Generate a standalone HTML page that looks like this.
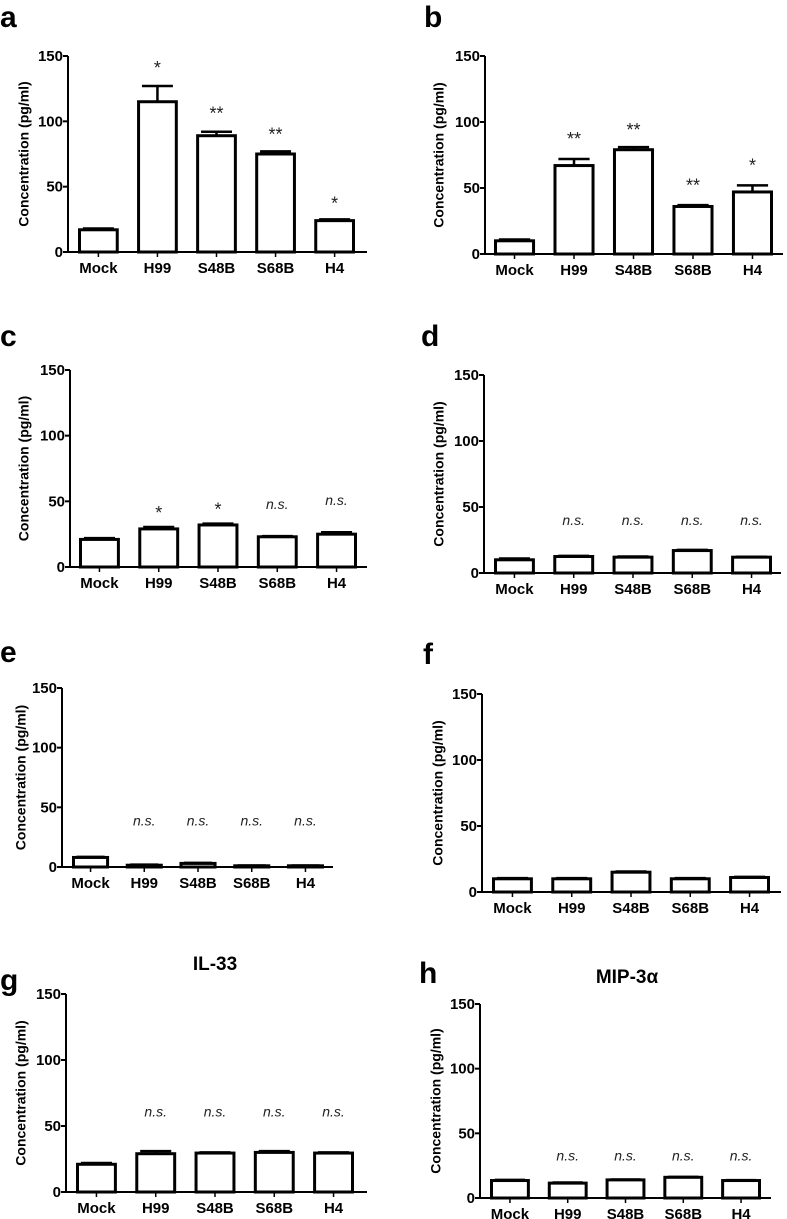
<!DOCTYPE html>
<html><head><meta charset="utf-8">
<style>
html,body{margin:0;padding:0;background:#fff;}
svg{display:block;font-family:"Liberation Sans",Arial,sans-serif;}
</style></head>
<body>
<svg id="fig" width="787" height="1219" viewBox="0 0 787 1219" xmlns="http://www.w3.org/2000/svg"></svg>
<script>
const categories = ["Mock","H99","S48B","S68B","H4"];
const yTicks = [0,50,100,150];
const valuesA = [17,115,89,75,24];
const errorsA = [1,12,3,2,1];
const annotA = ["","*","**","**","*"];
const annotPosA = [0,144,109,93,40];
const valuesB = [10,67,79,36,47];
const errorsB = [1,5,2,1,5];
const annotB = ["","**","**","**","*"];
const annotPosB = [0,90,97,55,70];
const valuesC = [21,29,32,23,25];
const errorsC = [1,1.5,1,0.5,1.5];
const annotC = ["","*","*","n.s.","n.s."];
const annotPosC = [0,44,47,48,51];
const valuesD = [10,12.5,12,17,12];
const errorsD = [1,0.5,0.5,0.5,0.3];
const annotD = ["","n.s.","n.s.","n.s.","n.s."];
const annotPosD = [0,40,40,40,40];
const valuesE = [8,1.5,3,1,1];
const errorsE = [0.5,0.5,0.5,0.3,0.3];
const annotE = ["","n.s.","n.s.","n.s.","n.s."];
const annotPosE = [0,39,39,39,39];
const valuesF = [10,10,15,10,11];
const errorsF = [0.5,0.5,0.5,0.5,0.5];
const annotF = ["","","","",""];
const annotPosF = [0,0,0,0,0];
const valuesG = [21,29,29.5,30,29.5];
const errorsG = [1,2,0.5,1,0.5];
const annotG = ["","n.s.","n.s.","n.s.","n.s."];
const annotPosG = [0,61,61,61,61];
const valuesH = [13.5,11.5,14,16,13.5];
const errorsH = [0.5,0.5,0.3,0.3,0.3];
const annotH = ["","n.s.","n.s.","n.s.","n.s."];
const annotPosH = [0,33,33,33,33];

const NS="http://www.w3.org/2000/svg";
const svg=document.getElementById('fig');
function mk(tag,attrs,parent){const e=document.createElementNS(NS,tag);for(const k in attrs)e.setAttribute(k,attrs[k]);(parent||svg).appendChild(e);return e;}

const panels=[
 {id:'a',vals:valuesA,errs:errorsA,ann:annotA,annPos:annotPosA,ax:68,y0:252,yTop:56,xEnd:367,first:78,last:355,lx:0,ly:27,tx:25,title:''},
 {id:'b',vals:valuesB,errs:errorsB,ann:annotB,annPos:annotPosB,ax:485,y0:254,yTop:56,xEnd:783,first:494,last:773,lx:424,ly:27,tx:440,title:''},
 {id:'c',vals:valuesC,errs:errorsC,ann:annotC,annPos:annotPosC,ax:70,y0:567,yTop:370,xEnd:367,first:79,last:357,lx:0,ly:346,tx:25,title:''},
 {id:'d',vals:valuesD,errs:errorsD,ann:annotD,annPos:annotPosD,ax:484,y0:573,yTop:375,xEnd:781,first:494,last:772,lx:421,ly:346,tx:440,title:''},
 {id:'e',vals:valuesE,errs:errorsE,ann:annotE,annPos:annotPosE,ax:62,y0:867,yTop:688,xEnd:333,first:72,last:324,lx:0,ly:662,tx:22,title:''},
 {id:'f',vals:valuesF,errs:errorsF,ann:annotF,annPos:annotPosF,ax:482,y0:892,yTop:694,xEnd:781,first:492,last:770,lx:423,ly:664,tx:439,title:''},
 {id:'g',vals:valuesG,errs:errorsG,ann:annotG,annPos:annotPosG,ax:66,y0:1192,yTop:994,xEnd:367,first:76,last:354,lx:0,ly:990,tx:22,title:'IL-33',ttx:215},
 {id:'h',vals:valuesH,errs:errorsH,ann:annotH,annPos:annotPosH,ax:480,y0:1198,yTop:1004,xEnd:771,first:490,last:761,lx:419,ly:983,tx:437,title:'MIP-3\u03B1',ttx:627}
];

panels.forEach(p=>{
  const g=mk('g',{});
  
  
  const n=categories.length;
  const step=(p.last-p.first)/(n-1+0.69);
  const bw=step*0.69;
  const y=v=>p.y0-(v/150)*(p.y0-p.yTop);
  const xc=i=>p.first+bw/2+i*step;
  const lbl=mk('text',{x:p.lx,y:p.ly,'font-size':30,'font-weight':'bold',fill:'#000'},g);
  lbl.textContent=p.id;
  
  
  if(p.title){
    const t=mk('text',{x:p.ttx,y:p.id==='g'?970:983,'font-size':19,'font-weight':'bold','text-anchor':'middle'},g);
    t.textContent=p.title;
    
    
  }
  const ya=mk('line',{x1:p.ax,y1:p.yTop,x2:p.ax,y2:p.y0,stroke:'#000','stroke-width':2},g);
  
  
  yTicks.forEach(t=>{
    mk('line',{x1:p.ax-5,y1:y(t),x2:p.ax,y2:y(t),stroke:'#000','stroke-width':2},g);
    const tl=mk('text',{x:p.ax-5,y:y(t)+5,'font-size':15,'font-weight':'bold','text-anchor':'end'},g);
    tl.textContent=t;
    
    
  });
  const cy=(p.yTop+p.y0)/2;
  const yt=mk('text',{x:p.tx,y:cy,'font-size':14,'font-weight':'bold','text-anchor':'middle',transform:`rotate(-90 ${p.tx} ${cy})`,'dominant-baseline':'middle'},g);
  yt.textContent='Concentration (pg/ml)';
  
  
  const xa=mk('line',{x1:p.ax-1,y1:p.y0,x2:p.xEnd,y2:p.y0,stroke:'#000','stroke-width':2},g);
  
  
  categories.forEach((c,i)=>{
    const v=p.vals[i],e=p.errs[i];
    mk('line',{x1:xc(i),y1:p.y0,x2:xc(i),y2:p.y0+5,stroke:'#000','stroke-width':1.5},g);
    const cl=mk('text',{x:xc(i),y:p.y0+21,'font-size':15,'font-weight':'bold','text-anchor':'middle'},g);
    cl.textContent=c;
    
    
    mk('line',{x1:xc(i),y1:y(v),x2:xc(i),y2:y(v+e),stroke:'#000','stroke-width':2.5},g);
    mk('line',{x1:xc(i)-bw*0.38,y1:y(v+e),x2:xc(i)+bw*0.38,y2:y(v+e),stroke:'#000','stroke-width':2.5},g);
    const r=mk('rect',{x:xc(i)-bw/2+1.5,y:y(v),width:bw-3,height:Math.max(p.y0-y(v),0.5),fill:'#fff',stroke:'#000','stroke-width':3},g);
    
    
    if(p.ann[i]){
      const star=p.ann[i]!=='n.s.';
      const a=mk('text',{x:xc(i),y:y(p.annPos[i])+(star?10:5),'font-size':star?18:14,'font-style':star?'normal':'italic','text-anchor':'middle',fill:'#222'},g);
      a.textContent=p.ann[i];
      
      
    }
  });
});
</script>
</body></html>
